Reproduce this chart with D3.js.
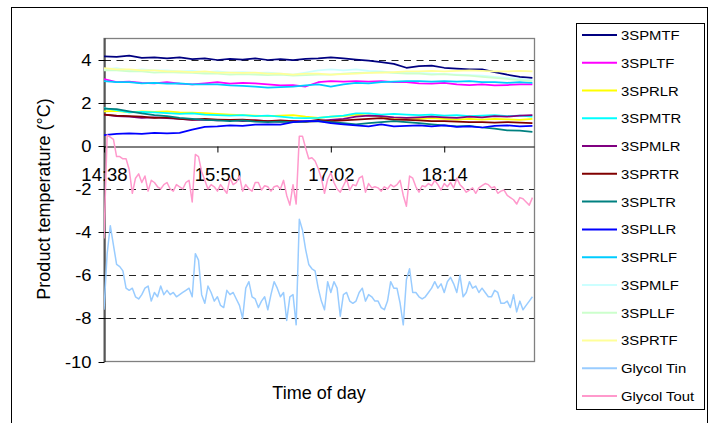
<!DOCTYPE html>
<html><head><meta charset="utf-8">
<script src="https://cdn.jsdelivr.net/npm/d3@7"></script>
<style>
body{margin:0;background:#fff}
svg{display:block}
text{font-family:"Liberation Sans",Arial,sans-serif;fill:#000}
</style>
</head><body><svg id="c" width="716" height="423"></svg>
<script>
// ---------- DATA ----------
const timesFine = [
"14:38","14:40","14:42","14:44","14:46","14:48","14:50","14:52","14:54","14:56","14:58",
"15:00","15:02","15:04","15:06","15:08","15:10","15:12","15:14","15:16","15:18","15:20","15:22","15:24","15:26","15:28","15:30","15:32","15:34","15:36","15:38","15:40","15:42","15:44","15:46","15:48","15:50","15:52","15:54","15:56","15:58",
"16:00","16:02","16:04","16:06","16:08","16:10","16:12","16:14","16:16","16:18","16:20","16:22","16:24","16:26","16:28","16:30","16:32","16:34","16:36","16:38","16:40","16:42","16:44","16:46","16:48","16:50","16:52","16:54","16:56","16:58",
"17:00","17:02","17:04","17:06","17:08","17:10","17:12","17:14","17:16","17:18","17:20","17:22","17:24","17:26","17:28","17:30","17:32","17:34","17:36","17:38","17:40","17:42","17:44","17:46","17:48","17:50","17:52","17:54","17:56","17:58",
"18:00","18:02","18:04","18:06","18:08","18:10","18:12","18:14","18:16","18:18","18:20","18:22","18:24","18:26","18:28","18:30","18:32","18:34","18:36","18:38","18:40","18:42","18:44","18:46","18:48","18:50","18:52","18:54","18:56","18:58",
"19:00","19:02","19:04","19:06","19:08","19:10"];
const timesCoarse = ["14:38","14:46","14:54","15:02","15:10","15:18","15:26","15:34","15:42","15:50","15:58","16:06","16:14","16:22","16:30","16:38","16:46","16:54","17:02","17:10","17:18","17:26","17:34","17:42","17:50","17:58","18:06","18:14","18:22","18:30","18:38","18:46","18:54","19:02","19:10"];
const tickLabels = ["14:38","15:50","17:02","18:14"];
const yTicks = [-10,-8,-6,-4,-2,0,2,4];
const gridValues = [-8,-6,-4,-2,2,4];

const seriesNames = ["3SPMTF","3SPLTF","3SPRLR","3SPMTR","3SPMLR","3SPRTR","3SPLTR","3SPLLR","3SPRLF","3SPMLF","3SPLLF","3SPRTF","Glycol Tin","Glycol Tout"];
const seriesColors = ["#000080","#FF00FF","#FFFF00","#00FFFF","#800080","#800000","#008080","#0000FF","#00CCFF","#CCFFFF","#CCFFCC","#FFFF99","#99CCFF","#FF99CC"];

const v3SPMTF = [4.15,4.12,4.18,4.08,4.1,4.05,4.1, 4.02,4.05,3.98,4.03,4.0,4.05,3.98, 4.02,3.97,4.03,4.05,4.1,4.05,4.0, 3.95,3.88,3.8,3.62,3.7,3.72,3.62, 3.58,3.55,3.55,3.42,3.3,3.2,3.15];
const v3SPLTF = [3.1,2.95,2.98,2.92,2.9,2.95,2.88, 2.85,2.9,2.95,2.88,2.92,2.9,2.85, 2.8,2.82,2.75,2.95,3.0,2.98,3.0, 2.98,3.0,2.95,2.95,2.9,2.88,2.92, 2.85,2.82,2.85,2.8,2.82,2.85,2.85];
const v3SPRLR = [1.6,1.62,1.55,1.6,1.58,1.6,1.55, 1.54,1.52,1.48,1.45,1.42,1.4,1.38, 1.4,1.42,1.35,1.3,1.35,1.38,1.45, 1.4,1.35,1.3,1.28,1.25,1.28,1.25, 1.22,1.25,1.22,1.25,1.23,1.2,1.25];
const v3SPMTR = [1.75,1.65,1.55,1.58,1.55,1.52,1.48, 1.5,1.45,1.42,1.4,1.42,1.38,1.4, 1.35,1.3,1.28,1.3,1.35,1.4,1.5, 1.5,1.45,1.48,1.45,1.42,1.45,1.4, 1.42,1.38,1.4,1.42,1.38,1.4,1.35];
const v3SPMLR = [1.45,1.38,1.35,1.3,1.32,1.28,1.25, 1.2,1.22,1.18,1.2,1.15,1.18,1.15, 1.12,1.15,1.12,1.15,1.2,1.25,1.35, 1.4,1.38,1.32,1.3,1.32,1.35,1.32, 1.3,1.35,1.32,1.38,1.35,1.4,1.42];
const v3SPRTR = [1.45,1.4,1.38,1.35,1.3,1.32,1.25, 1.22,1.25,1.22,1.2,1.22,1.18,1.15, 1.18,1.15,1.12,1.2,1.15,1.18,1.22, 1.25,1.28,1.22,1.2,1.18,1.15,1.15, 1.12,1.1,1.1,1.08,1.1,1.08,1.05];
const v3SPLTR = [1.72,1.7,1.6,1.5,1.42,1.38,1.3, 1.25,1.2,1.18,1.15,1.18,1.12,1.1, 1.12,1.1,1.12,1.15,1.1,1.05,1.0, 1.05,1.1,1.15,1.1,1.05,1.0,0.95, 0.9,0.92,0.85,0.8,0.72,0.7,0.65];
const v3SPLLR = [0.5,0.55,0.58,0.55,0.6,0.58,0.6, 0.75,0.88,0.9,0.95,0.92,0.98,1.0, 0.98,1.1,1.15,1.15,1.05,1.0,0.95, 0.9,1.0,0.9,0.92,0.95,0.9,0.95, 0.88,0.9,0.85,0.92,0.95,0.9,0.92];
const v3SPRLF = [3.0,2.95,2.95,2.9,2.92,2.88,2.9, 2.85,2.85,2.85,2.8,2.78,2.75,2.7, 2.72,2.75,2.8,2.85,2.75,2.85,2.92, 2.9,2.95,2.98,3.0,3.0,2.98,3.0, 2.98,3.0,2.95,2.95,2.92,2.95,2.92];
const v3SPMLF = [3.55,3.6,3.5,3.55,3.5,3.5,3.45, 3.48,3.42,3.45,3.4,3.42,3.38,3.4, 3.35,3.3,3.4,3.5,3.55,3.5,3.55, 3.48,3.45,3.4,3.42,3.38,3.35,3.32, 3.3,3.28,3.25,3.2,3.15,3.1,3.05];
const v3SPLLF = [3.5,3.5,3.45,3.45,3.4,3.42,3.4, 3.38,3.35,3.35,3.3,3.32,3.3,3.28, 3.3,3.25,3.28,3.3,3.3,3.35,3.38, 3.4,3.42,3.38,3.35,3.35,3.3,3.32, 3.28,3.25,3.2,3.15,3.1,3.05,3.0];
const v3SPRTF = [3.6,3.55,3.55,3.5,3.5,3.45,3.45, 3.42,3.45,3.4,3.4,3.38,3.4,3.35, 3.35,3.3,3.35,3.35,3.3,3.32,3.35, 3.38,3.4,3.42,3.45,3.45,3.48,3.45, 3.48,3.5,3.48,3.45,3.45,3.48,3.45];

const glycolTin = [
-7.6,-5.0,-3.7,-4.6,-5.5,-5.6,-5.8,-6.6,-6.7,-6.6,
-7.0,-7.1,-6.9,-6.6,-6.5,-7.2,-6.8,-7.0,-6.5,-6.9,
-6.7,-6.9,-6.8,-7.0,-6.9,-6.8,-6.7,-6.6,-7.0,-5.0,
-5.3,-6.9,-7.3,-6.5,-6.8,-7.2,-7.0,-7.4,-7.5,-6.7,
-6.9,-6.8,-7.1,-7.4,-8.0,-6.6,-6.3,-7.0,-7.1,-7.5,
-7.2,-7.0,-7.6,-6.9,-6.3,-6.6,-7.0,-6.8,-8.1,-7.0,
-6.9,-8.3,-3.4,-3.9,-4.8,-5.5,-5.7,-5.8,-6.6,-7.2,
-7.6,-6.3,-6.8,-6.3,-6.6,-7.9,-6.9,-6.8,-7.2,-7.3,
-7.2,-6.8,-6.6,-7.2,-6.9,-7.0,-7.2,-7.2,-7.5,-7.6,
-7.2,-6.3,-6.6,-6.6,-7.3,-8.3,-6.2,-5.7,-6.8,-6.8,
-7.0,-7.1,-7.0,-6.8,-6.6,-6.3,-6.6,-6.4,-6.8,-6.3,
-6.1,-6.4,-6.8,-6.0,-7.0,-6.8,-6.3,-6.6,-6.5,-6.8,
-6.6,-6.8,-7.0,-7.0,-6.7,-6.8,-7.3,-7.3,-7.2,-7.5,
-6.9,-7.7,-7.2,-7.6,-7.4,-7.2,-7.0];
const glycolTout = [
-4.3,0.5,0.4,0.3,-0.5,-0.5,-0.6,-0.6,-1.1,-2.2,
-1.5,-1.3,-1.7,-1.4,-2.1,-1.6,-1.7,-1.9,-2.0,-1.8,
-1.7,-2.0,-2.1,-1.8,-1.9,-2.0,-1.7,-1.6,-2.6,-0.4,
-0.5,-1.2,-1.6,-2.0,-1.8,-1.9,-2.1,-1.8,-2.0,-2.2,
-1.5,-1.8,-1.7,-1.4,-2.1,-1.8,-2.0,-2.1,-1.7,-1.7,
-2.05,-1.85,-1.9,-2.1,-1.9,-1.85,-2.0,-1.6,-2.3,-2.75,
-1.8,-2.7,0.45,0.45,-0.1,-0.6,-0.55,-0.7,-1.05,-1.5,
-2.2,-1.55,-1.25,-1.7,-2.0,-2.15,-1.85,-1.55,-2.05,-1.8,
-1.85,-1.5,-1.4,-2.15,-1.75,-1.95,-1.9,-1.95,-2.1,-1.9,
-2.0,-1.8,-1.9,-1.8,-1.6,-2.3,-2.8,-1.4,-1.5,-1.9,
-2.15,-1.85,-1.9,-1.75,-1.85,-1.6,-1.8,-2.05,-1.75,-1.9,
-1.7,-1.95,-1.5,-1.8,-1.95,-2.15,-2.05,-1.95,-2.2,-1.95,
-1.85,-1.75,-1.8,-1.95,-1.9,-2.2,-2.1,-2.05,-2.3,-2.4,
-2.5,-2.7,-2.4,-2.45,-2.6,-2.75,-2.4];

const seriesValues = [v3SPMTF,v3SPLTF,v3SPRLR,v3SPMTR,v3SPMLR,v3SPRTR,v3SPLTR,v3SPLLR,v3SPRLF,v3SPMLF,v3SPLLF,v3SPRTF,glycolTin,glycolTout];
const seriesTimes = [timesCoarse,timesCoarse,timesCoarse,timesCoarse,timesCoarse,timesCoarse,timesCoarse,timesCoarse,timesCoarse,timesCoarse,timesCoarse,timesCoarse,timesFine,timesFine];

// ---------- CHART ----------
const svg = d3.select("#c");
svg.append("rect").attr("width",716).attr("height",423).attr("fill","#fff");
svg.append("rect").attr("x",11.5).attr("y",7.5).attr("width",696).attr("height",440)
  .attr("fill","none").attr("stroke","#000").attr("stroke-width",1);

const parse = d3.timeParse("%H:%M");
const L = 104, R = 534, T = 38, B = 361.5;
const x = d3.scaleTime().domain([parse("14:38"), parse("19:11")]).range([L, R]);
const y = d3.scaleLinear().domain([-10, 5]).range([B, T]);
const cy = v => Math.round(y(v)) + 0.5;

// plot border
svg.append("rect").attr("x",L).attr("y",T+0.5).attr("width",R-L+0.5).attr("height",B-T-0.5)
  .attr("fill","#fff").attr("stroke","#808080").attr("stroke-width",1.3);

// gridlines
svg.append("g").selectAll("line").data(gridValues).join("line")
  .attr("x1",L).attr("x2",R).attr("y1",cy).attr("y2",cy)
  .attr("stroke","#000").attr("stroke-width",1).attr("stroke-dasharray","7,5.5").attr("opacity",0.85);

// y axis
const yAxis = svg.append("g").attr("transform",`translate(${L+0.5},0)`)
  .call(d3.axisLeft(y).tickValues(yTicks).tickSize(6).tickSizeOuter(0).tickFormat(d => String(d)));
yAxis.select(".domain").attr("stroke","#000");
yAxis.selectAll(".tick").attr("transform", d => `translate(0,${cy(d)})`);
yAxis.selectAll(".tick line").attr("stroke","#000");
yAxis.selectAll(".tick text").attr("font-size","16px").attr("font-family",'"Liberation Sans",Arial,sans-serif')
  .attr("x",-13/1.15).attr("dy","0.36em").attr("transform","scale(1.15,1)").attr("fill","#000");

// x axis at y = 0
const xAxis = svg.append("g").attr("transform",`translate(0,${cy(0)})`)
  .call(d3.axisBottom(x).tickValues(tickLabels.map(parse)).tickSize(6).tickSizeOuter(0).tickFormat(d3.timeFormat("%H:%M")));
xAxis.select(".domain").attr("stroke","#000");
xAxis.selectAll(".tick line").attr("stroke","#000");
xAxis.selectAll(".tick text").attr("font-size","18.5px").attr("font-family",'"Liberation Sans",Arial,sans-serif')
  .attr("y",34).attr("dy",0).attr("fill","#000");

// series
const clip = svg.append("clipPath").attr("id","pc").append("rect")
  .attr("x",L).attr("y",T).attr("width",R-L).attr("height",B-T);
const gLines = svg.append("g").attr("clip-path","url(#pc)");
seriesNames.forEach((name, i) => {
  const ts = seriesTimes[i], vs = seriesValues[i];
  const pts = vs.map((v, k) => [parse(ts[k]), v]);
  const line = d3.line().x(d => x(d[0])).y(d => y(d[1]));
  gLines.append("path").datum(pts).attr("d", line)
    .attr("fill","none").attr("stroke",seriesColors[i])
    .attr("stroke-width", i >= 12 ? 1.5 : 1.75).attr("stroke-linejoin","round");
});

// axis titles
svg.append("text").attr("transform","translate(50,199) rotate(-90)").attr("text-anchor","middle")
  .attr("font-size","18px").text("Product temperature (°C)");
svg.append("text").attr("x",319).attr("y",399).attr("text-anchor","middle")
  .attr("font-size","18px").text("Time of day");

// legend
const lg = svg.append("g");
lg.append("rect").attr("x",576.5).attr("y",23.5).attr("width",128).attr("height",386)
  .attr("fill","#fff").attr("stroke","#000").attr("stroke-width",1);
seriesNames.forEach((name, i) => {
  const yy = 35 + i * 27.77;
  lg.append("line").attr("x1",582).attr("x2",617).attr("y1",yy).attr("y2",yy)
    .attr("stroke",seriesColors[i]).attr("stroke-width",2);
  lg.append("text").attr("transform",`translate(621,${yy + 5}) scale(1.1,1)`)
    .attr("font-size","13.5px").text(name);
});
</script>
</body></html>
